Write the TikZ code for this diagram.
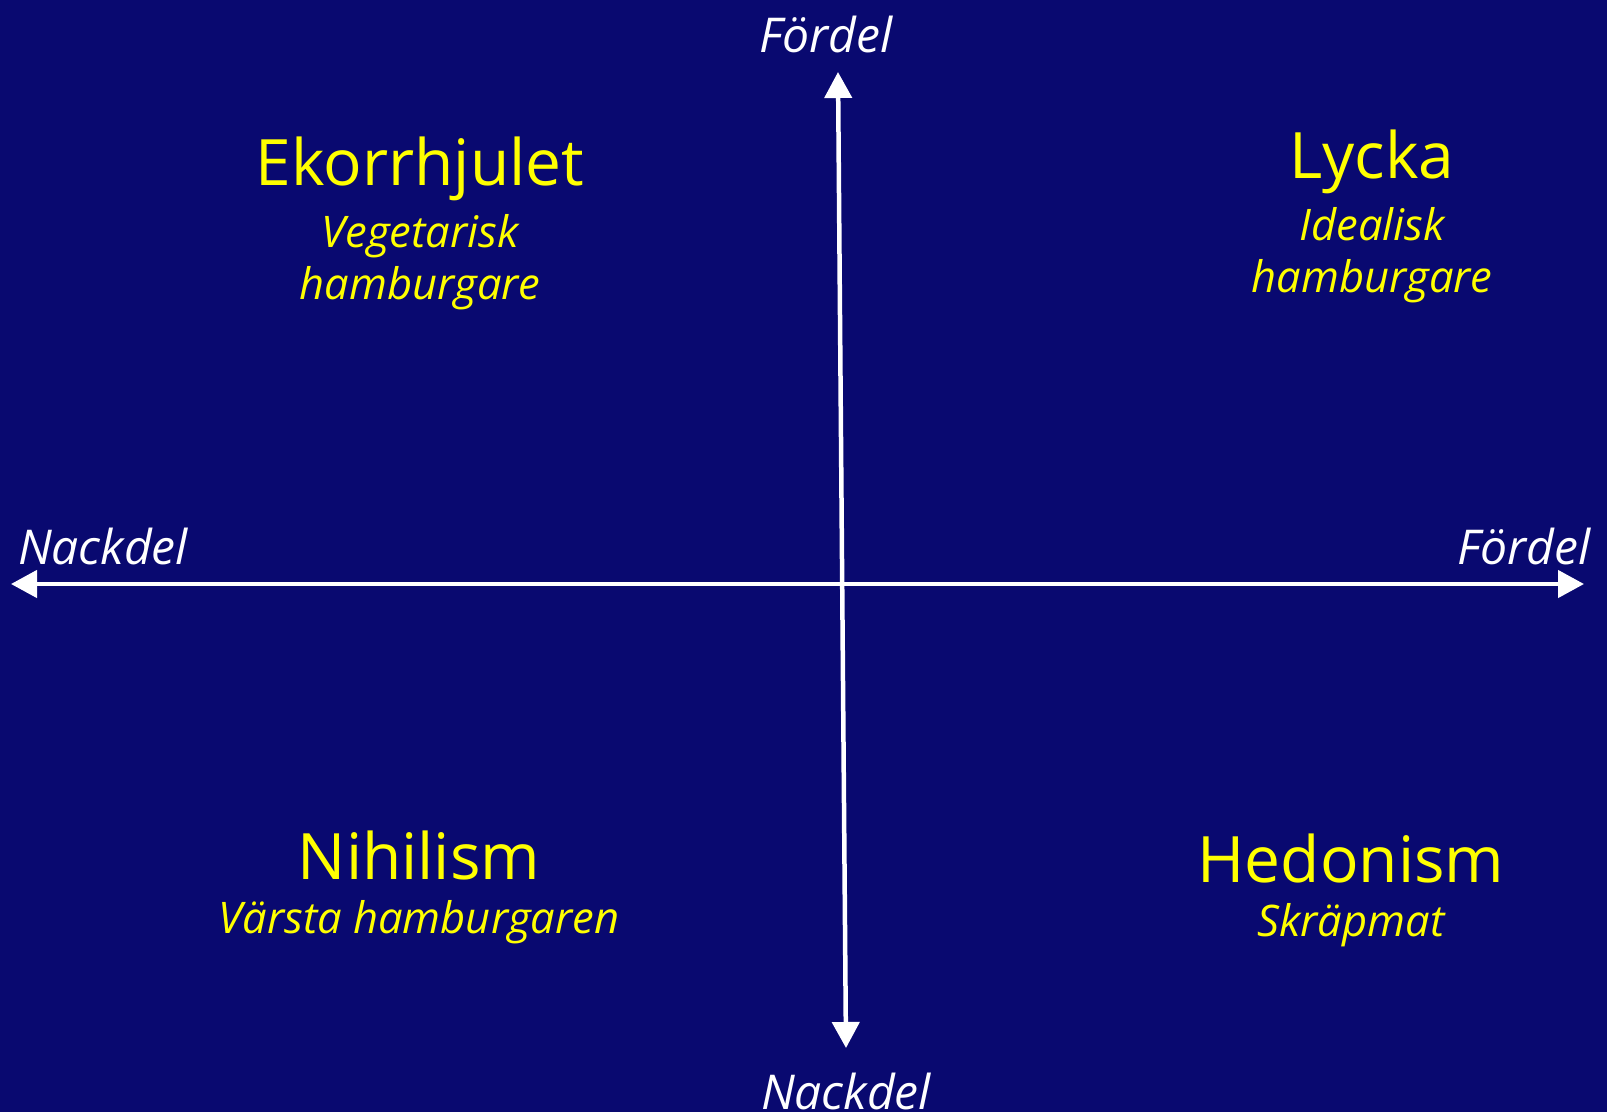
\documentclass[tikz,border=0pt]{standalone}
\usepackage{fontspec}
\setmainfont{Open Sans}
\usetikzlibrary{arrows.meta, positioning}
\definecolor{bgNavy}{RGB}{9,9,112}
\definecolor{txtYellow}{RGB}{255,255,0}
\tikzset{
  qd/title/.style={text=txtYellow, inner sep=0pt,
    font=\fontsize{64}{72}\selectfont},
  qd/sub/.style={text=txtYellow, inner sep=0pt, align=center,
    font=\fontsize{43.5}{52}\selectfont\itshape},
  qd/axlbl/.style={text=white, inner sep=0pt,
    font=\fontsize{48}{54}\selectfont\itshape},
  qd/axis/.style={{Triangle[length=26pt,width=27pt]}-{Triangle[length=26pt,width=27pt]},
    line width=4.5pt, draw=white}
}

\begin{document}
\begin{tikzpicture}[x=1pt, y=-1pt]
  \useasboundingbox[fill=bgNavy] (0,0) rectangle (1607,1112);

  % axis ends
  \coordinate (top) at (838,72);
  \coordinate (bot) at (846,1048);
  \coordinate (lft) at (11,584);
  \coordinate (rgt) at (1584,584);

  \draw[qd/axis] (bot) -- (top);
  \draw[qd/axis] (lft) -- (rgt);

  \node[qd/axlbl] (ftop) at (826,34) {Fördel};
  \node[qd/axlbl] (nbot) at (846,1091) {Nackdel};
  \node[qd/axlbl] (nlft) at (103,546) {Nackdel};
  \node[qd/axlbl] (frgt) at (1524,546) {Fördel};

  % quadrants
  \node[qd/title] (ekorr) at (420,169) {Ekorrhjulet};
  \node[qd/sub, below=13pt of ekorr] (veg) {Vegetarisk\\hamburgare};
  \node[qd/title] (lycka) at (1372,162) {Lycka};
  \node[qd/sub, below=13pt of lycka] (ideal) {Idealisk\\hamburgare};
  \node[qd/title] (nihil) at (419,855) {Nihilism};
  \node[qd/sub, below=20pt of nihil] (varst) {Värsta hamburgaren};
  \node[qd/title] (hedon) at (1351,858) {Hedonism};
  \node[qd/sub, below=20pt of hedon] (skrap) {Skräpmat};
\end{tikzpicture}
\end{document}
